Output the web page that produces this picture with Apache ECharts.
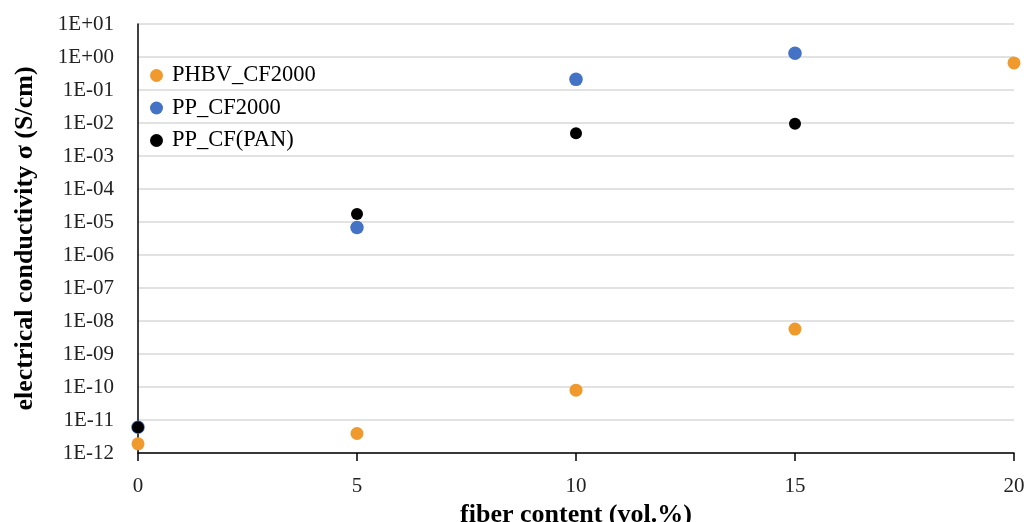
<!DOCTYPE html>
<html>
<head>
<meta charset="utf-8">
<script src="https://cdn.jsdelivr.net/npm/echarts@6/dist/echarts.min.js"></script>
<style>
  html, body { margin: 0; padding: 0; background: #fff; }
  #chart { width: 1029px; height: 522px; }
</style>
</head>
<body>
<div id="chart"></div>
<script>
// fiber content (vol.%)
const phbvX = [0, 5, 10, 15, 20]
const phbvY = [1.9e-12, 3.9e-12, 8e-11, 5.7e-9, 0.66]

const ppX = [0, 5, 10, 15]
const ppY = [6e-12, 6.8e-6, 0.21, 1.3]

const panX = [0, 5, 10, 15]
const panY = [6e-12, 1.75e-5, 4.9e-3, 9.5e-3]

const xTicks = [0, 5, 10, 15, 20]

const seriesNames = ['PHBV_CF2000', 'PP_CF2000', 'PP_CF(PAN)']
const seriesColors = ['#F09A2E', '#4472C4', '#000000']

const font = '"Liberation Serif", "DejaVu Serif", serif'

const toPairs = (xs, ys) => xs.map((x, i) => [x, ys[i]])

const expLabel = v => {
  const e = Math.round(Math.log10(v))
  const sign = e < 0 ? '-' : '+'
  const abs = Math.abs(e)
  return '1E' + sign + (abs < 10 ? '0' + abs : abs)
}

const chart = echarts.init(document.getElementById('chart'))

const option = {
  animation: false,
  grid: {
    left: 138,
    right: 15,
    top: 24,
    bottom: 69,
    containLabel: false,
    outerBoundsMode: 'none'
  },
  legend: {
    orient: 'vertical',
    left: 150,
    top: 64,
    padding: 0,
    icon: 'circle',
    itemWidth: 13,
    itemHeight: 13,
    itemGap: 9.5,
    data: seriesNames,
    textStyle: {
      fontFamily: font,
      fontSize: 22.5,
      color: '#000',
      padding: [0, 0, 0, 4]
    }
  },
  xAxis: {
    type: 'value',
    min: xTicks[0],
    max: xTicks[xTicks.length - 1],
    interval: 5,
    name: 'fiber content (vol.%)',
    nameLocation: 'middle',
    nameGap: 46,
    nameTextStyle: {
      fontFamily: font,
      fontSize: 26,
      fontWeight: 'bold',
      color: '#000'
    },
    axisLine: { lineStyle: { color: '#000', width: 1.5 } },
    axisTick: { show: true, length: 8, lineStyle: { color: '#000', width: 1.5 } },
    axisLabel: {
      margin: 23,
      fontFamily: font,
      fontSize: 21,
      color: '#222'
    },
    splitLine: { show: false }
  },
  yAxis: {
    type: 'log',
    logBase: 10,
    min: 1e-12,
    max: 10,
    interval: 1,
    name: 'electrical conductivity σ (S/cm)',
    nameLocation: 'middle',
    nameGap: 100,
    nameTextStyle: {
      fontFamily: font,
      fontSize: 26,
      fontWeight: 'bold',
      color: '#000'
    },
    axisLine: { show: true, lineStyle: { color: '#000', width: 1.5 } },
    axisTick: { show: false },
    axisLabel: {
      margin: 24,
      fontFamily: font,
      fontSize: 21,
      color: '#222',
      formatter: expLabel
    },
    splitLine: { show: true, lineStyle: { color: '#d9d9d9', width: 1.5 } }
  },
  series: [
    {
      name: seriesNames[0],
      type: 'scatter',
      symbolSize: 13,
      itemStyle: { color: seriesColors[0], opacity: 1 },
      data: toPairs(phbvX, phbvY)
    },
    {
      name: seriesNames[1],
      type: 'scatter',
      symbolSize: 13.5,
      itemStyle: { color: seriesColors[1], opacity: 1 },
      data: toPairs(ppX, ppY)
    },
    {
      name: seriesNames[2],
      type: 'scatter',
      symbolSize: 12,
      itemStyle: { color: seriesColors[2], opacity: 1 },
      data: toPairs(panX, panY)
    }
  ]
}

chart.setOption(option)
</script>
</body>
</html>
